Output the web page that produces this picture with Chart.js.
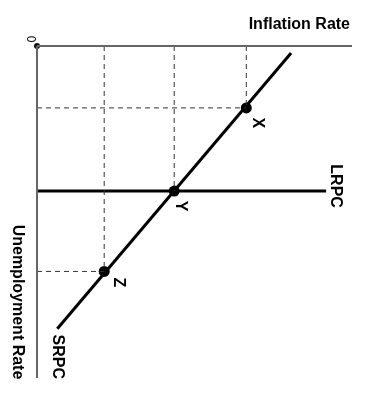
<!DOCTYPE html>
<html>
<head>
<meta charset="utf-8">
<script src="https://cdn.jsdelivr.net/npm/chart.js@4"></script>
<style>
  html, body { margin: 0; padding: 0; background: #fff; }
  #c { display: block; }
</style>
</head>
<body>
<canvas id="c" width="372" height="396"></canvas>
<script>
// Rotated Phillips-curve diagram: inflation runs to the right, unemployment runs downward.
const axisLimits = { inflationMax: 4.5, unemploymentMax: 8.1 };
const pointNames = ['X', 'Y', 'Z'];
const pointInflation = [2.99, 1.96, 0.96];
const pointUnemployment = [1.51, 3.54, 5.5];
const srpcInflation = [3.63, 0.29];
const srpcUnemployment = [0.17, 6.9];
const lrpcInflation = [0, 4.13];
const lrpcUnemployment = [3.54, 3.54];
const axisTitles = { inflation: 'Inflation Rate', unemployment: 'Unemployment Rate' };
const curveNames = { lrpc: 'LRPC', srpc: 'SRPC' };
const originLabel = '0';

const FONT = '"Liberation Sans", Arial, Helvetica, sans-serif';

function pts(xs, ys) { return xs.map((x, i) => ({ x: x, y: ys[i] })); }

const datasets = [];
// axes
datasets.push({ data: [{x:0,y:0},{x:axisLimits.inflationMax,y:0}], borderColor:'#666', borderWidth:2, pointRadius:0 });
datasets.push({ data: [{x:0,y:0},{x:0,y:axisLimits.unemploymentMax}], borderColor:'#666', borderWidth:2, pointRadius:0 });
// dashed guides
pointNames.forEach((n, i) => {
  datasets.push({ data: [{x:pointInflation[i],y:0},{x:pointInflation[i],y:pointUnemployment[i]}], borderColor:'#333', borderWidth:1, borderDash:[5,4], pointRadius:0 });
  if (n !== 'Y') {
    datasets.push({ data: [{x:0,y:pointUnemployment[i]},{x:pointInflation[i],y:pointUnemployment[i]}], borderColor:'#333', borderWidth:1, borderDash:[5,4], pointRadius:0 });
  }
});
// LRPC
datasets.push({ data: pts(lrpcInflation, lrpcUnemployment), borderColor:'#000', borderWidth:3, pointRadius:0 });
// SRPC
datasets.push({ data: pts(srpcInflation, srpcUnemployment), borderColor:'#000', borderWidth:3, pointRadius:0 });
// points
datasets.push({ data: pts(pointInflation, pointUnemployment), showLine:false, pointRadius:5.5, pointBackgroundColor:'#000', pointBorderWidth:0 });
// origin dot
datasets.push({ data: [{x:0,y:0}], showLine:false, pointRadius:3, pointBackgroundColor:'#111', pointBorderWidth:0 });

datasets.forEach(d => { d.clip = false; d.tension = 0; d.fill = false; if (d.showLine === undefined) d.showLine = true; });

const labelOffsets = { X: [11, 15], Y: [6, 15], Z: [14, 11] };

const labelPlugin = {
  id: 'labels',
  afterDatasetsDraw(chart) {
    const ctx = chart.ctx;
    const xs = chart.scales.x, ys = chart.scales.y;
    function rotText(txt, x, y, font) {
      ctx.save();
      ctx.translate(x, y);
      ctx.rotate(Math.PI / 2);
      ctx.font = font;
      ctx.fillStyle = '#000';
      ctx.textAlign = 'center';
      ctx.textBaseline = 'middle';
      ctx.fillText(txt, 0, 0);
      ctx.restore();
    }
    pointNames.forEach((n, i) => {
      const px = xs.getPixelForValue(pointInflation[i]);
      const py = ys.getPixelForValue(pointUnemployment[i]);
      rotText(n, px + labelOffsets[n][0], py + labelOffsets[n][1], 'bold 16px ' + FONT);
    });
    // LRPC label at end of line
    rotText(curveNames.lrpc, xs.getPixelForValue(lrpcInflation[1]) + 9, ys.getPixelForValue(lrpcUnemployment[1]) - 5, 'bold 16px ' + FONT);
    // SRPC label below lower end
    rotText(curveNames.srpc, xs.getPixelForValue(srpcInflation[1]), ys.getPixelForValue(srpcUnemployment[1]) + 28, 'bold 16px ' + FONT);
    // axis titles
    const left = chart.chartArea.left, top = chart.chartArea.top, right = chart.chartArea.right, bottom = chart.chartArea.bottom;
    ctx.save();
    ctx.font = 'bold 16px ' + FONT;
    ctx.fillStyle = '#000';
    ctx.textAlign = 'right';
    ctx.textBaseline = 'alphabetic';
    ctx.fillText(axisTitles.inflation, right - 2, top - 17);
    ctx.restore();
    rotText(axisTitles.unemployment, left - 20, bottom - 76, 'bold 16px ' + FONT);
    rotText(originLabel, left - 7, top - 7, '12px ' + FONT);
  }
};

new Chart(document.getElementById('c'), {
  type: 'scatter',
  data: { datasets: datasets },
  options: {
    responsive: false,
    animation: false,
    devicePixelRatio: 1,
    layout: { padding: { left: 37, top: 46, right: 20, bottom: 18 } },
    plugins: { legend: { display: false }, tooltip: { enabled: false } },
    scales: {
      x: { type: 'linear', min: 0, max: axisLimits.inflationMax, display: false },
      y: { type: 'linear', min: 0, max: axisLimits.unemploymentMax, reverse: true, display: false }
    }
  },
  plugins: [labelPlugin]
});
</script>
</body>
</html>
